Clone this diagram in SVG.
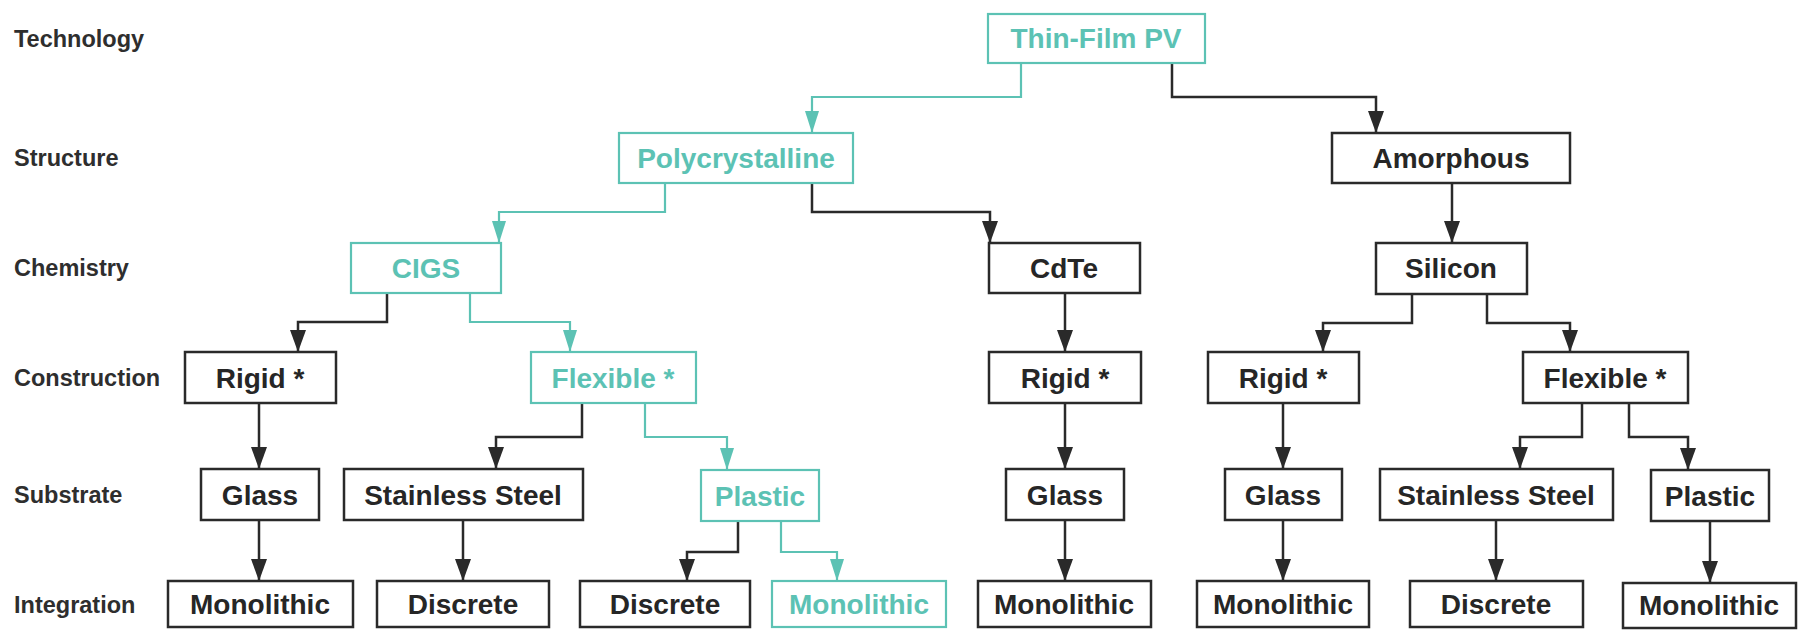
<svg xmlns="http://www.w3.org/2000/svg" width="1803" height="630" viewBox="0 0 1803 630">
<style>
  .bg{fill:#ffffff}
  .box{fill:#ffffff;stroke:#2a2a2a;stroke-width:2.5}
  .tbox{fill:#ffffff;stroke:#5cc2b4;stroke-width:2.2}
  .t{font-family:"Liberation Sans",Arial,sans-serif;font-weight:bold;font-size:28px;fill:#262626;text-anchor:middle}
  .tt{font-family:"Liberation Sans",Arial,sans-serif;font-weight:bold;font-size:28px;fill:#5cc2b4;text-anchor:middle}
  .lab{font-family:"Liberation Sans",Arial,sans-serif;font-weight:bold;font-size:23.5px;fill:#2e2e2e}
  .c{fill:none;stroke:#2a2a2a;stroke-width:2.5}
  .ct{fill:none;stroke:#5cc2b4;stroke-width:2.2}
</style>
<defs>
  <marker id="ab" viewBox="0 0 22 16" refX="22" refY="8" markerWidth="22" markerHeight="16" markerUnits="userSpaceOnUse" orient="auto">
    <path d="M0,0 L22,8 L0,16 z" fill="#2a2a2a"/>
  </marker>
  <marker id="at" viewBox="0 0 22 14" refX="22" refY="7" markerWidth="22" markerHeight="14" markerUnits="userSpaceOnUse" orient="auto">
    <path d="M0,0 L22,7 L0,14 z" fill="#5cc2b4"/>
  </marker>
</defs>
<rect class="bg" x="0" y="0" width="1803" height="630"/>

<g id="labels">
  <text class="lab" x="14" y="47">Technology</text>
  <text class="lab" x="14" y="166">Structure</text>
  <text class="lab" x="14" y="276">Chemistry</text>
  <text class="lab" x="14" y="386">Construction</text>
  <text class="lab" x="14" y="503">Substrate</text>
  <text class="lab" x="14" y="613">Integration</text>
</g>

<g id="connectors">
  <path class="ct" d="M1021,63 V97 H812 V133" marker-end="url(#at)"/>
  <path class="c" d="M1172,63 V97 H1376 V133" marker-end="url(#ab)"/>
  <path class="ct" d="M665,183 V212 H499 V243" marker-end="url(#at)"/>
  <path class="c" d="M812,183 V212 H990 V243" marker-end="url(#ab)"/>
  <path class="c" d="M1452,183 V243" marker-end="url(#ab)"/>
  <path class="c" d="M387,293 V322 H298 V352" marker-end="url(#ab)"/>
  <path class="ct" d="M470,293 V322 H570 V352" marker-end="url(#at)"/>
  <path class="c" d="M1065,293 V352" marker-end="url(#ab)"/>
  <path class="c" d="M1412,294 V323 H1323 V352" marker-end="url(#ab)"/>
  <path class="c" d="M1487,294 V323 H1570 V352" marker-end="url(#ab)"/>
  <path class="c" d="M259,403 V469" marker-end="url(#ab)"/>
  <path class="c" d="M582,403 V437 H496 V469" marker-end="url(#ab)"/>
  <path class="ct" d="M645,403 V437 H727 V470" marker-end="url(#at)"/>
  <path class="c" d="M1065,403 V469" marker-end="url(#ab)"/>
  <path class="c" d="M1283,403 V469" marker-end="url(#ab)"/>
  <path class="c" d="M1582,403 V437 H1520 V469" marker-end="url(#ab)"/>
  <path class="c" d="M1629,403 V437 H1688 V470" marker-end="url(#ab)"/>
  <path class="c" d="M259,520 V581" marker-end="url(#ab)"/>
  <path class="c" d="M463,520 V581" marker-end="url(#ab)"/>
  <path class="c" d="M738,521 V552 H687 V581" marker-end="url(#ab)"/>
  <path class="ct" d="M781,521 V552 H837 V581" marker-end="url(#at)"/>
  <path class="c" d="M1065,520 V581" marker-end="url(#ab)"/>
  <path class="c" d="M1283,520 V581" marker-end="url(#ab)"/>
  <path class="c" d="M1496,520 V581" marker-end="url(#ab)"/>
  <path class="c" d="M1710,521 V583" marker-end="url(#ab)"/>
</g>

<g id="n-thinfilm"><rect class="tbox" x="988" y="14" width="217" height="49"/><text class="tt" x="1096" y="48">Thin-Film PV</text></g>
<g id="n-poly"><rect class="tbox" x="619" y="133" width="234" height="50"/><text class="tt" x="736" y="168">Polycrystalline</text></g>
<g id="n-amorph"><rect class="box" x="1332" y="133" width="238" height="50"/><text class="t" x="1451" y="168">Amorphous</text></g>
<g id="n-cigs"><rect class="tbox" x="351" y="243" width="150" height="50"/><text class="tt" x="426" y="278">CIGS</text></g>
<g id="n-cdte"><rect class="box" x="989" y="243" width="151" height="50"/><text class="t" x="1064" y="278">CdTe</text></g>
<g id="n-silicon"><rect class="box" x="1376" y="243" width="151" height="51"/><text class="t" x="1451" y="278">Silicon</text></g>

<g id="n-rigid1"><rect class="box" x="185" y="352" width="151" height="51"/><text class="t" x="260" y="388">Rigid *</text></g>
<g id="n-flex1"><rect class="tbox" x="531" y="352" width="165" height="51"/><text class="tt" x="613" y="388">Flexible *</text></g>
<g id="n-rigid2"><rect class="box" x="989" y="352" width="152" height="51"/><text class="t" x="1065" y="388">Rigid *</text></g>
<g id="n-rigid3"><rect class="box" x="1208" y="352" width="151" height="51"/><text class="t" x="1283" y="388">Rigid *</text></g>
<g id="n-flex2"><rect class="box" x="1523" y="352" width="165" height="51"/><text class="t" x="1605" y="388">Flexible *</text></g>

<g id="n-glass1"><rect class="box" x="201" y="469" width="118" height="51"/><text class="t" x="260" y="505">Glass</text></g>
<g id="n-steel1"><rect class="box" x="344" y="469" width="239" height="51"/><text class="t" x="463" y="505">Stainless Steel</text></g>
<g id="n-plastic1"><rect class="tbox" x="701" y="470" width="118" height="51"/><text class="tt" x="760" y="506">Plastic</text></g>
<g id="n-glass2"><rect class="box" x="1006" y="469" width="118" height="51"/><text class="t" x="1065" y="505">Glass</text></g>
<g id="n-glass3"><rect class="box" x="1225" y="469" width="117" height="51"/><text class="t" x="1283" y="505">Glass</text></g>
<g id="n-steel2"><rect class="box" x="1380" y="469" width="233" height="51"/><text class="t" x="1496" y="505">Stainless Steel</text></g>
<g id="n-plastic2"><rect class="box" x="1651" y="470" width="118" height="51"/><text class="t" x="1710" y="506">Plastic</text></g>

<g id="n-mono1"><rect class="box" x="168" y="581" width="185" height="46"/><text class="t" x="260" y="614">Monolithic</text></g>
<g id="n-disc1"><rect class="box" x="377" y="581" width="172" height="46"/><text class="t" x="463" y="614">Discrete</text></g>
<g id="n-disc2"><rect class="box" x="580" y="581" width="170" height="46"/><text class="t" x="665" y="614">Discrete</text></g>
<g id="n-mono2"><rect class="tbox" x="772" y="581" width="174" height="46"/><text class="tt" x="859" y="614">Monolithic</text></g>
<g id="n-mono3"><rect class="box" x="978" y="581" width="173" height="46"/><text class="t" x="1064" y="614">Monolithic</text></g>
<g id="n-mono4"><rect class="box" x="1197" y="581" width="172" height="46"/><text class="t" x="1283" y="614">Monolithic</text></g>
<g id="n-disc3"><rect class="box" x="1410" y="581" width="173" height="46"/><text class="t" x="1496" y="614">Discrete</text></g>
<g id="n-mono5"><rect class="box" x="1623" y="583" width="173" height="45"/><text class="t" x="1709" y="615">Monolithic</text></g>
</svg>
